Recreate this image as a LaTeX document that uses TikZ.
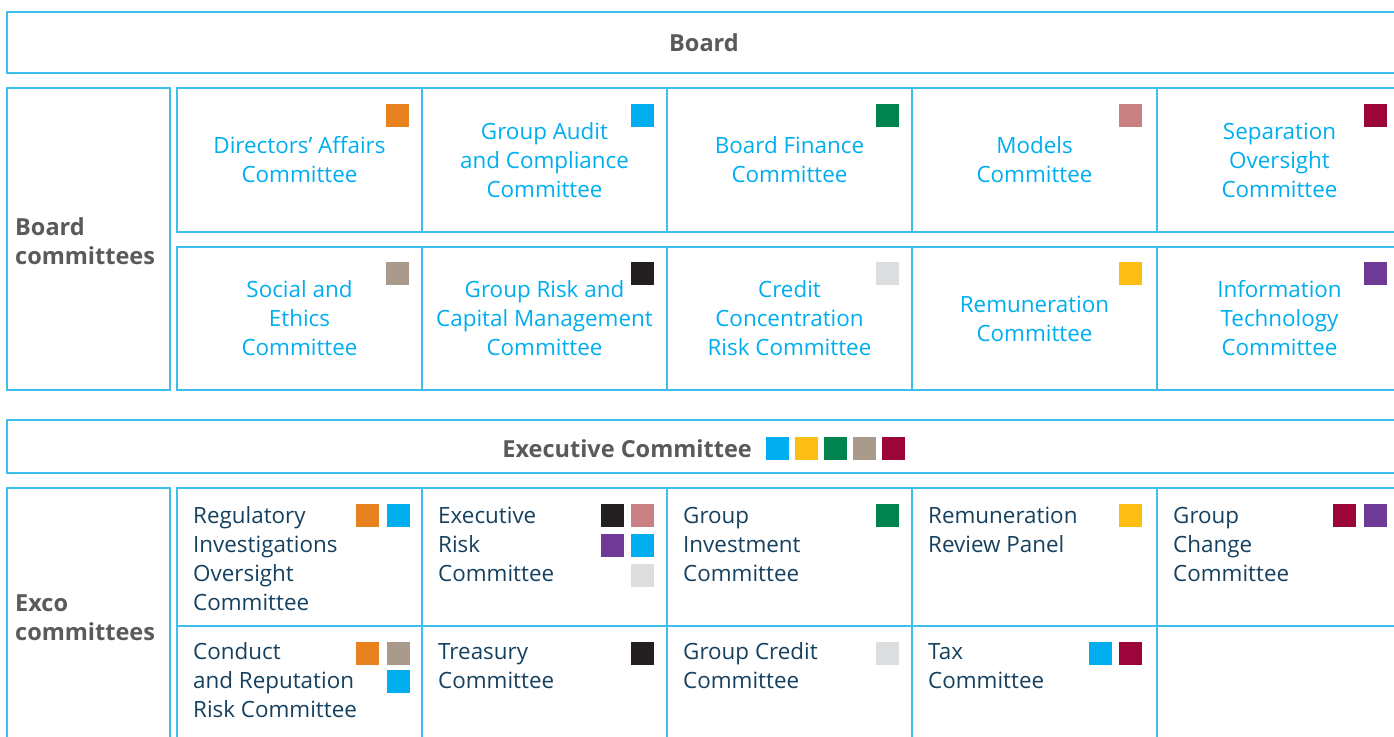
\documentclass[tikz,border=0pt]{standalone}
\usepackage{fontspec}
\setmainfont{Open Sans}
\usetikzlibrary{calc}
\definecolor{bline}{HTML}{3DBFEC}
\definecolor{ctext}{HTML}{00AEEF}
\definecolor{navy}{HTML}{16405F}
\definecolor{hgrey}{HTML}{5A5A5C}
\definecolor{sqorange}{HTML}{E8821E}
\definecolor{sqcyan}{HTML}{00AEEF}
\definecolor{sqgreen}{HTML}{00834E}
\definecolor{sqpink}{HTML}{C88083}
\definecolor{sqcrimson}{HTML}{9C0539}
\definecolor{sqblack}{HTML}{231F20}
\definecolor{sqlgrey}{HTML}{DCDDDE}
\definecolor{sqtaupe}{HTML}{A99A8C}
\definecolor{sqyellow}{HTML}{FDBE14}
\definecolor{sqpurple}{HTML}{6F3996}
\newcommand\bodyfs{\fontsize{22.4pt}{29pt}\selectfont}
\newcommand\headfs{\fontsize{23.5pt}{29pt}\selectfont\bfseries}
\begin{document}
\begin{tikzpicture}[x=1pt,y=-1pt,
  frame/.style={draw=bline, line width=1.5pt, inner sep=0pt, outer sep=0pt, anchor=north west},
  bcell/.style={frame, minimum width=245pt, text=ctext, align=center, font=\bodyfs},
  ecell/.style={frame, minimum width=245pt},
  etext/.style={anchor=north west, inner sep=0pt, align=left, text=navy, font=\bodyfs},
  head/.style={inner sep=0pt, text=hgrey, font=\headfs},
  sq/.style={fill=#1, minimum size=23pt, inner sep=0pt, outer sep=0pt, anchor=north east}]
\useasboundingbox (0,0) rectangle (1394,736);
\clip (0,0) rectangle (1394,736);

% Board
\node[frame, minimum width=1394pt, minimum height=61pt, font=\headfs, text=hgrey] (board) at (7,12) {Board};

% Board committees label
\node[frame, minimum width=163pt, minimum height=302pt] (bclab) at (7,88) {};
\node[head, anchor=west, align=left] (bclabt) at (15,241) {Board\\committees};

% Board committees row 1
\node[bcell, minimum height=144pt] (b11) at (177,88) {Directors’ Affairs\\Committee};
\node[bcell, minimum height=144pt] (b12) at (422,88) {Group Audit\\and Compliance\\Committee};
\node[bcell, minimum height=144pt] (b13) at (667,88) {Board Finance\\Committee};
\node[bcell, minimum height=144pt] (b14) at (912,88) {Models\\Committee};
\node[bcell, minimum height=144pt] (b15) at (1157,88) {Separation\\Oversight\\Committee};
% row 2
\node[bcell, minimum height=143pt] (b21) at (177,247) {Social and\\Ethics\\Committee};
\node[bcell, minimum height=143pt] (b22) at (422,247) {Group Risk and\\Capital Management\\Committee};
\node[bcell, minimum height=143pt] (b23) at (667,247) {Credit\\Concentration\\Risk Committee};
\node[bcell, minimum height=143pt] (b24) at (912,247) {Remuneration\\Committee};
\node[bcell, minimum height=143pt] (b25) at (1157,247) {Information\\Technology\\Committee};

\node[sq=sqorange]  (s11) at ($(b11.north east)+(-13,16)$) {};
\node[sq=sqcyan]    (s12) at ($(b12.north east)+(-13,16)$) {};
\node[sq=sqgreen]   (s13) at ($(b13.north east)+(-13,16)$) {};
\node[sq=sqpink]    (s14) at ($(b14.north east)+(-15,16)$) {};
\node[sq=sqcrimson] (s15) at ($(b15.north east)+(-15,16)$) {};
\node[sq=sqtaupe]   (s21) at ($(b21.north east)+(-13,15)$) {};
\node[sq=sqblack]   (s22) at ($(b22.north east)+(-13,15)$) {};
\node[sq=sqlgrey]   (s23) at ($(b23.north east)+(-13,15)$) {};
\node[sq=sqyellow]  (s24) at ($(b24.north east)+(-15,15)$) {};
\node[sq=sqpurple]  (s25) at ($(b25.north east)+(-15,15)$) {};

% Executive Committee
\node[frame, minimum width=1394pt, minimum height=53pt] (exec) at (7,420) {};
\node[head, anchor=east] (exect) at (752,449) {Executive Committee};
\node[sq=sqcyan, anchor=west]     (x1) at ($(exect.east)+(14,-1)$) {};
\node[sq=sqyellow, anchor=west]   (x2) at ($(x1.east)+(6,0)$) {};
\node[sq=sqgreen, anchor=west]    (x3) at ($(x2.east)+(6,0)$) {};
\node[sq=sqtaupe, anchor=west]    (x4) at ($(x3.east)+(6,0)$) {};
\node[sq=sqcrimson, anchor=west]  (x5) at ($(x4.east)+(6,0)$) {};

% Exco committees label
\node[frame, minimum width=163pt, minimum height=260pt] (eclab) at (7,488) {};
\node[head, anchor=west, align=left] (eclabt) at (15,618) {Exco\\committees};

% Exco cells row 1
\node[ecell, minimum height=138pt] (e11) at (177,488) {};
\node[ecell, minimum height=138pt] (e12) at (422,488) {};
\node[ecell, minimum height=138pt] (e13) at (667,488) {};
\node[ecell, minimum height=138pt] (e14) at (912,488) {};
\node[ecell, minimum height=138pt] (e15) at (1157,488) {};
% row 2
\node[ecell, minimum height=130pt] (e21) at (177,626) {};
\node[ecell, minimum height=130pt] (e22) at (422,626) {};
\node[ecell, minimum height=130pt] (e23) at (667,626) {};
\node[ecell, minimum height=130pt] (e24) at (912,626) {};
\node[ecell, minimum height=130pt] (e25) at (1157,626) {};

% Exco texts
\node[etext] (t11) at ($(e11.north west)+(16,15)$) {\strut Regulatory\\Investigations\\Oversight\\Committee};
\node[etext] (t12) at ($(e12.north west)+(16,15)$) {\strut Executive\\Risk\\Committee};
\node[etext] (t13) at ($(e13.north west)+(16,15)$) {\strut Group\\Investment\\Committee};
\node[etext] (t14) at ($(e14.north west)+(16,15)$) {\strut Remuneration\\Review Panel};
\node[etext] (t15) at ($(e15.north west)+(16,15)$) {\strut Group\\Change\\Committee};
\node[etext] (t21) at ($(e21.north west)+(16,13)$) {\strut Conduct\\and Reputation\\Risk Committee};
\node[etext] (t22) at ($(e22.north west)+(16,13)$) {\strut Treasury\\Committee};
\node[etext] (t23) at ($(e23.north west)+(16,13)$) {\strut Group Credit\\Committee};
\node[etext] (t24) at ($(e24.north west)+(16,13)$) {\strut Tax\\Committee};

% Exco squares
\node[sq=sqcyan]    (q11b) at ($(e11.north east)+(-12,16)$) {};
\node[sq=sqorange]  (q11a) at ($(e11.north east)+(-43,16)$) {};
\node[sq=sqpink]    (q12b) at ($(e12.north east)+(-13,16)$) {};
\node[sq=sqblack]   (q12a) at ($(e12.north east)+(-43,16)$) {};
\node[sq=sqcyan]    (q12d) at ($(e12.north east)+(-13,46)$) {};
\node[sq=sqpurple]  (q12c) at ($(e12.north east)+(-43,46)$) {};
\node[sq=sqlgrey]   (q12e) at ($(e12.north east)+(-13,76)$) {};
\node[sq=sqgreen]   (q13)  at ($(e13.north east)+(-13,16)$) {};
\node[sq=sqyellow]  (q14)  at ($(e14.north east)+(-15,16)$) {};
\node[sq=sqpurple]  (q15b) at ($(e15.north east)+(-15,16)$) {};
\node[sq=sqcrimson] (q15a) at ($(e15.north east)+(-46,16)$) {};
\node[sq=sqtaupe]   (q21b) at ($(e21.north east)+(-12,16)$) {};
\node[sq=sqorange]  (q21a) at ($(e21.north east)+(-43,16)$) {};
\node[sq=sqcyan]    (q21c) at ($(e21.north east)+(-12,44)$) {};
\node[sq=sqblack]   (q22)  at ($(e22.north east)+(-13,16)$) {};
\node[sq=sqlgrey]   (q23)  at ($(e23.north east)+(-13,16)$) {};
\node[sq=sqcrimson] (q24b) at ($(e24.north east)+(-15,16)$) {};
\node[sq=sqcyan]    (q24a) at ($(e24.north east)+(-45,16)$) {};
\end{tikzpicture}
\end{document}
